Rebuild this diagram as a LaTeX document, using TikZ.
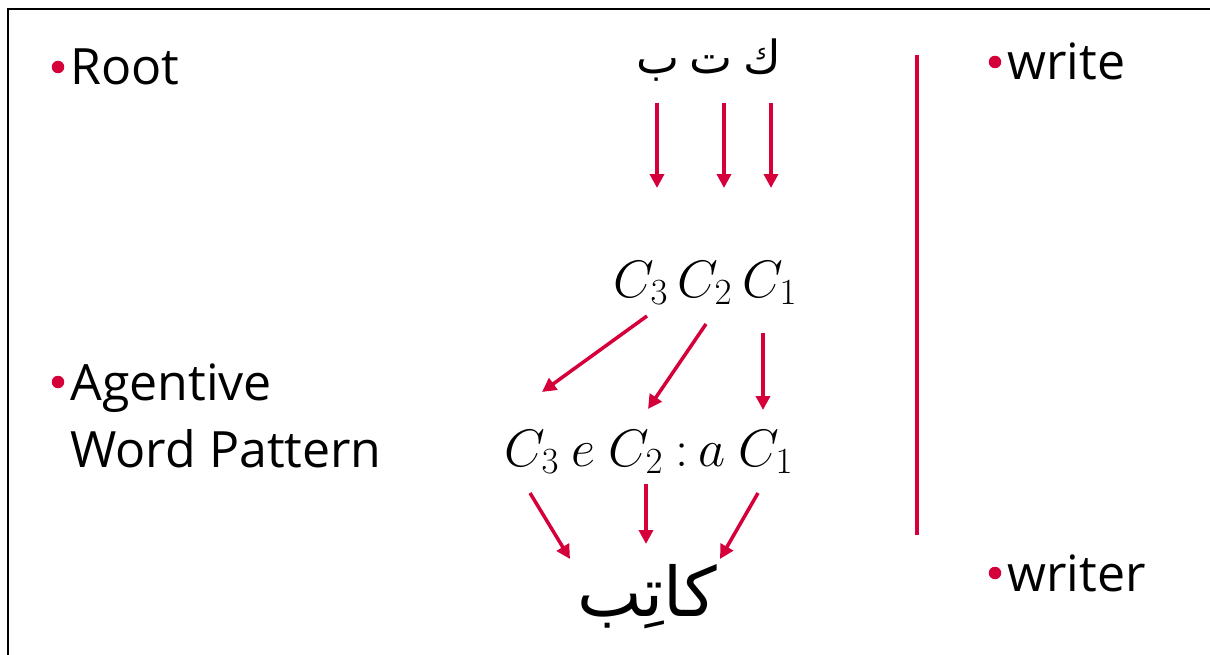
\RequirePackage{fix-cm}
\documentclass[tikz,border=0pt]{standalone}
\usepackage{fontspec}
\setmainfont{Open Sans}
\newfontfamily\arabicfont[Script=Arabic]{DejaVu Sans}
\TeXXeTstate=1
\usetikzlibrary{arrows.meta}
\definecolor{rootred}{HTML}{D5003A}

\begin{document}
\begin{tikzpicture}[
    x=0.02cm, y=-0.02cm,
    term/.style={anchor=base west, inner sep=0pt, font=\fontsize{28.5}{34}\selectfont},
    letter/.style={anchor=base, inner sep=0pt, font=\fontsize{26}{30}\selectfont\arabicfont},
    word/.style={anchor=base, inner sep=0pt, font=\fontsize{39}{44}\selectfont\arabicfont},
    slot/.style={anchor=base, inner sep=0pt, font=\fontsize{30}{36}\selectfont},
    arrow/.style={-{Triangle[length=0.28cm, width=0.28cm]}, line width=0.07cm, color=rootred},
    dot/.style={fill=rootred}
]
\useasboundingbox (0,0) rectangle (1210,655);
\draw[line width=0.05cm] (8,655) |- (1210,9);

% glosses
\node[term] (root) at (70,85) {Root};
\node[term] (agent) at (70,400) {Agentive};
\node[term] (pattern) at (70,467) {Word Pattern};
\node[term] (write) at (1007,80) {write};
\node[term] (writer) at (1007,591) {writer};
\foreach \n in {root,agent,write,writer}
  \fill[dot] ([shift={(-12,-18)}]\n.base west) circle (0.125cm);

\draw[rootred, line width=0.09cm] (917,55) -- (917,535);

% root letters
\node[letter] (ba) at (658,74) {\beginR ب\endR};
\node[letter] (ta) at (711,74) {\beginR ت\endR};
\node[letter] (kaf) at (762,74) {\beginR ك\endR};

% consonant slots
\node[slot] (c3) at (641,297) {$C_3$};
\node[slot] (c2) at (705,297) {$C_2$};
\node[slot] (c1) at (770,297) {$C_1$};

% agentive pattern
\node[slot] (p3) at (532,466) {$C_3$};
\node[slot] (pe) at (583,466) {$e$};
\node[slot] (p2) at (636,466) {$C_2$};
\node[slot] (pc) at (682,466) {$:$};
\node[slot] (pa) at (712,466) {$a$};
\node[slot] (p1) at (766,466) {$C_1$};

\node[word] (katib) at (647,616) {\beginR كاتِب\endR};

% arrow ends
\foreach \x/\n in {657/1, 724/2, 771/3} {
  \coordinate (s\n) at (\x,103);
  \coordinate (e\n) at (\x,188);
}
\coordinate (a1) at (647,316); \coordinate (b1) at (542,392);
\coordinate (a2) at (706,324); \coordinate (b2) at (648,409);
\coordinate (a3) at (763,333); \coordinate (b3) at (763,410);
\coordinate (d1) at (530,493); \coordinate (f1) at (570,559);
\coordinate (d2) at (646,484); \coordinate (f2) at (646,544);
\coordinate (d3) at (758,493); \coordinate (f3) at (720,559);

\foreach \n in {1,2,3} {
  \draw[arrow] (s\n) -- (e\n);
  \draw[arrow] (a\n) -- (b\n);
  \draw[arrow] (d\n) -- (f\n);
}

\end{tikzpicture}
\end{document}
